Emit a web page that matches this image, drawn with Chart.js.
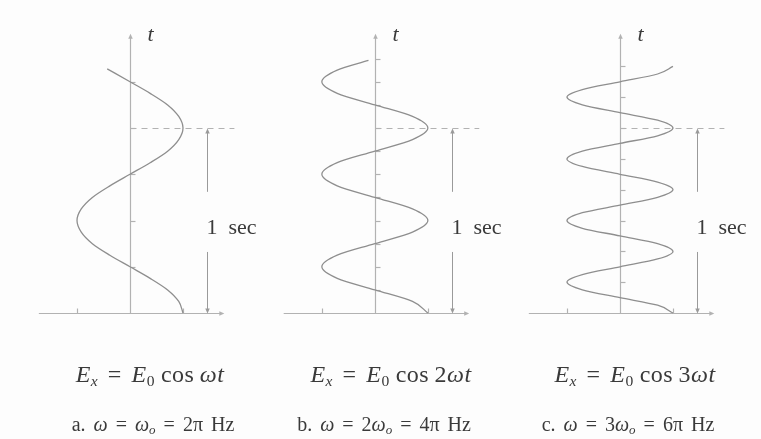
<!DOCTYPE html>
<html>
<head>
<meta charset="utf-8">
<script src="https://cdn.jsdelivr.net/npm/chart.js@4.4.0/dist/chart.umd.min.js"></script>
<style>
  html, body { margin: 0; padding: 0; background: #fdfdfd; }
  #wrap { position: relative; width: 761px; height: 439px; overflow: hidden; }
  #wrap canvas { position: absolute; left: 0; top: 0; }
  .eq, .cap {
    position: absolute;
    font-family: 'Liberation Serif', 'Times New Roman', serif;
    color: #3a3a3a;
    white-space: nowrap;
    transform: translateX(-50%);
  }
  .eq { top: 361px; font-size: 24px; letter-spacing: 0.5px; }
  .cap { top: 413px; font-size: 20px; word-spacing: 3px; }
  .eq sub, .cap sub { font-size: 65%; vertical-align: -0.25em; }
  .rel { margin: 0 0.4em; }
  .op { margin: 0 0.22em 0 0.25em; }
</style>
</head>
<body>
<div id="wrap">
  <canvas id="waves" width="761" height="439"></canvas>
</div>
<script>
// E_x / E_0 against t in seconds, one list pair per panel
const T_A = [0, 0.0625, 0.125, 0.1875, 0.25, 0.3125, 0.375, 0.4375, 0.5, 0.5625, 0.625, 0.6875,
             0.75, 0.8125, 0.875, 0.9375, 1, 1.0625, 1.125, 1.1875, 1.25, 1.32];
const E_A = [1, 0.92, 0.71, 0.38, 0, -0.38, -0.71, -0.92, -1, -0.92, -0.71, -0.38,
             0, 0.38, 0.71, 0.92, 1, 0.92, 0.71, 0.38, 0, -0.43];

const T_B = [0, 0.0625, 0.125, 0.1875, 0.25, 0.3125, 0.375, 0.4375, 0.5, 0.5625, 0.625, 0.6875,
             0.75, 0.8125, 0.875, 0.9375, 1, 1.0625, 1.125, 1.1875, 1.25, 1.3125, 1.365];
const E_B = [1, 0.71, 0, -0.71, -1, -0.71, 0, 0.71, 1, 0.71, 0, -0.71,
             -1, -0.71, 0, 0.71, 1, 0.71, 0, -0.71, -1, -0.71, -0.12];

const T_C = [0, 0.042, 0.083, 0.125, 0.167, 0.208, 0.25, 0.292, 0.333, 0.375, 0.417, 0.458,
             0.5, 0.542, 0.583, 0.625, 0.667, 0.708, 0.75, 0.792, 0.833, 0.875, 0.917, 0.958,
             1, 1.042, 1.083, 1.125, 1.167, 1.208, 1.25, 1.292, 1.333];
const E_C = [1, 0.71, 0, -0.71, -1, -0.71, 0, 0.71, 1, 0.71, 0, -0.71,
             -1, -0.71, 0, 0.71, 1, 0.71, 0, -0.71, -1, -0.71, 0, 0.71,
             1, 0.71, 0, -0.71, -1, -0.71, 0, 0.71, 1];

// tick marks on each t axis
const TICKS_A = [0.25, 0.5, 0.75, 1, 1.25];
const TICKS_B = [0.125, 0.25, 0.375, 0.5, 0.625, 0.75, 0.875, 1, 1.125, 1.25, 1.375];
const TICKS_C = [0.167, 0.333, 0.5, 0.667, 0.833, 1, 1.167, 1.333];
const E_TICKS = [-1, 1];

const MARK_T = 1;            // the dashed "1 sec" level
const MARK_LABEL = '1\u2002sec';
const AXIS_LABEL = 't';

const LETTERS = ['a', 'b', 'c'];
const MULT = ['', '2', '3'];
const OMEGA_HZ = ['2π', '4π', '6π'];

const SERIES = [[T_A, E_A], [T_B, E_B], [T_C, E_C]];
const TICKS = [TICKS_A, TICKS_B, TICKS_C];

// layout: each panel's t axis sits at its own x offset (in E_0 units)
const PANEL_X = [0, 4.62, 9.245];
const X_MIN = -2.453, X_MAX = 11.906;
const T_MIN = -0.681, T_MAX = 1.692;

const AXIS_COLOR = '#b2b2b2';
const CURVE_COLOR = '#8e8e8e';
const TEXT_COLOR = '#3a3a3a';
const SERIF = "'Liberation Serif', 'Times New Roman', serif";

function arrowHead(ctx, x, y, dir, size) {
  // dir: 1 = pointing up, -1 = pointing down, 2 = pointing right
  ctx.beginPath();
  if (dir === 2) {
    ctx.moveTo(x, y);
    ctx.lineTo(x - size, y - size * 0.45);
    ctx.lineTo(x - size, y + size * 0.45);
  } else {
    ctx.moveTo(x, y);
    ctx.lineTo(x - size * 0.45, y + dir * size);
    ctx.lineTo(x + size * 0.45, y + dir * size);
  }
  ctx.closePath();
  ctx.fill();
}

const waveAxes = {
  id: 'waveAxes',
  beforeDatasetsDraw(chart) {
    const ctx = chart.ctx;
    const sx = chart.scales.x, sy = chart.scales.y;
    const px = v => sx.getPixelForValue(v);
    const py = t => sy.getPixelForValue(t);

    ctx.save();
    PANEL_X.forEach((x0, i) => {
      const ax = Math.round(px(x0)) + 0.5;
      const base = Math.round(py(0)) + 0.5;

      ctx.strokeStyle = AXIS_COLOR;
      ctx.fillStyle = AXIS_COLOR;
      ctx.lineWidth = 1.2;
      ctx.setLineDash([]);

      // horizontal E axis
      ctx.beginPath();
      ctx.moveTo(px(x0 - 1.72), base);
      ctx.lineTo(px(x0 + 1.75), base);
      ctx.stroke();
      arrowHead(ctx, px(x0 + 1.78), base, 2, 5);
      E_TICKS.forEach(e => {
        const tx = Math.round(px(x0 + e)) + 0.5;
        ctx.beginPath();
        ctx.moveTo(tx, base);
        ctx.lineTo(tx, base - 5);
        ctx.stroke();
      });

      // vertical t axis
      ctx.beginPath();
      ctx.moveTo(ax, base);
      ctx.lineTo(ax, py(1.49));
      ctx.stroke();
      arrowHead(ctx, ax, py(1.51), 1, 5);
      TICKS[i].forEach(t => {
        const ty = Math.round(py(t)) + 0.5;
        ctx.beginPath();
        ctx.moveTo(ax, ty);
        ctx.lineTo(ax + 5, ty);
        ctx.stroke();
      });

      // dashed level at t = 1 s
      const my = Math.round(py(MARK_T)) + 0.5;
      ctx.lineWidth = 1;
      ctx.setLineDash([6, 5]);
      ctx.beginPath();
      ctx.moveTo(ax, my);
      ctx.lineTo(px(x0 + 1.97), my);
      ctx.stroke();
      ctx.setLineDash([]);

      // double arrow for the 1 sec span, broken around its label
      const arx = Math.round(px(x0 + 1.46)) + 0.5;
      ctx.strokeStyle = '#9a9a9a';
      ctx.fillStyle = '#9a9a9a';
      ctx.beginPath();
      ctx.moveTo(arx, base - 4);
      ctx.lineTo(arx, py(0.33));
      ctx.moveTo(arx, py(0.655));
      ctx.lineTo(arx, my + 4);
      ctx.stroke();
      arrowHead(ctx, arx, base, -1, 5);
      arrowHead(ctx, arx, my, 1, 5);

      // labels
      ctx.fillStyle = TEXT_COLOR;
      ctx.textBaseline = 'middle';
      ctx.textAlign = 'left';
      ctx.font = '22px ' + SERIF;
      ctx.fillText(MARK_LABEL, arx - 1, py(0.46));
      ctx.font = 'italic 22px ' + SERIF;
      ctx.fillText(AXIS_LABEL, ax + 17, py(1.5));
    });
    ctx.restore();
  }
};

new Chart(document.getElementById('waves'), {
  type: 'line',
  data: {
    datasets: SERIES.map(([ts, es], i) => ({
      data: ts.map((t, k) => ({ x: PANEL_X[i] + es[k], y: t })),
      borderColor: CURVE_COLOR,
      borderWidth: 1.3,
      cubicInterpolationMode: 'monotone',
      pointRadius: 0,
      fill: false
    }))
  },
  options: {
    indexAxis: 'y',
    responsive: false,
    animation: false,
    events: [],
    layout: { padding: 0 },
    plugins: { legend: { display: false }, tooltip: { enabled: false } },
    scales: {
      x: { type: 'linear', display: false, min: X_MIN, max: X_MAX },
      y: { type: 'linear', display: false, min: T_MIN, max: T_MAX }
    }
  },
  plugins: [waveAxes]
});

// equation and caption under each panel
const wrap = document.getElementById('wrap');
const EQ_CX = [150, 391, 635];
const CAP_CX = [153, 384, 628];
LETTERS.forEach((l, i) => {
  const eq = document.createElement('div');
  eq.className = 'eq';
  eq.style.left = EQ_CX[i] + 'px';
  eq.innerHTML = '<i>E<sub>x</sub></i><span class="rel">=</span><i>E</i><sub>0</sub>' +
    '<span class="op">cos</span>' + MULT[i] + '<i>ωt</i>';
  wrap.appendChild(eq);

  const cap = document.createElement('div');
  cap.className = 'cap';
  cap.style.left = CAP_CX[i] + 'px';
  cap.innerHTML = l + '. <i>ω</i><span class="rel">=</span>' + MULT[i] + '<i>ω<sub>o</sub></i>' +
    '<span class="rel">=</span>' + OMEGA_HZ[i] + ' Hz';
  wrap.appendChild(cap);
});
</script>
</body>
</html>
